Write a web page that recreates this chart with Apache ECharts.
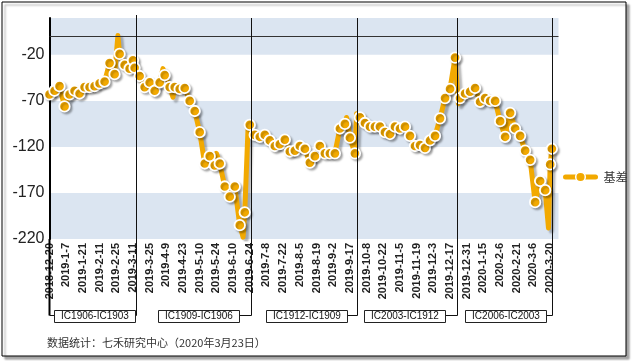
<!DOCTYPE html>
<html><head><meta charset="utf-8">
<script src="https://cdn.jsdelivr.net/npm/echarts@6/dist/echarts.min.js"></script>
<style>html,body{margin:0;padding:0;background:#fff}#c{width:634px;height:361px}</style>
</head><body><div id="c"></div>
<script>
// ---- data ----
const tickLabels = ['2018-12-20','2019-1-7','2019-1-21','2019-2-11','2019-2-25','2019-3-11','2019-3-25','2019-4-9','2019-4-23','2019-5-10','2019-5-24','2019-6-10','2019-6-24','2019-7-8','2019-7-22','2019-8-5','2019-8-19','2019-9-2','2019-9-17','2019-10-8','2019-10-22','2019-11-5','2019-11-19','2019-12-3','2019-12-17','2019-12-31','2020-1-15','2020-2-6','2020-2-21','2020-3-6','2020-3-20'];
const dayCount = 306; // trading-day slots on the category axis

// trading-day index of each marked observation
const markerDay = [0,3,6,9,12,15,18,21,24,27,30,33,36,39,42,45,48,50,
  51,54,57,60,63,66,69,72,75,78,81,84,87,90,93,96,99,102,105,108,111,114,117,120,
  123,126,129,132,135,138,141,144,147,150,153,156,159,162,165,168,171,174,177,180,183,186,189,192,195,198,201,
  204,207,210,213,216,219,222,225,228,231,234,237,240,243,246,249,252,255,258,261,264,267,270,273,276,279,282,285,288,291,294,297,300,
  301];
const markerBasis = [-63,-59,-54,-76,-63,-59,-62,-55,-55,-54,-51,-49,-29,-41,-19,-31,-35,-26,
  -34,-43,-55,-50,-59,-50,-42,-55,-55,-57,-56,-70,-81,-104,-138,-130,-140,-138,-163,-174,-163,-205,-191,-96,
  -107,-109,-107,-113,-119,-117,-112,-125,-124,-119,-122,-137,-130,-119,-127,-127,-127,-100,-95,-110,-127,-88,-94,-98,-98,-98,-104,
  -106,-98,-100,-98,-108,-119,-118,-121,-113,-108,-89,-67,-57,-23,-67,-62,-60,-56,-71,-67,-70,-70,-92,-109,-83,-100,-108,-124,-134,-180,-157,-167,-139,
  -122];
// observations visible only in the line (no marker)
const lineOnlyDay = [41,68,74,100,116,119,178,184,245,299];
const lineOnlyBasis = [1,-35,-66,-127,-218,-98,-88,-84,-73,-208];

// contract roll positions and bracket labels
const rollDay = [52.3,120.6,184.1,243.5,300.5];
const boxCenterDay = [26.6,88.7,153.6,213.2,272.6];
const contracts = ['IC1906-IC1903','IC1909-IC1906','IC1912-IC1909','IC2003-IC1912','IC2006-IC2003'];
const sourceText = '数据统计：七禾研究中心（2020年3月23日）';
const seriesName = '基差';

// ---- build ----
const categories = Array.from({length: dayCount}, (_, i) => String(i));
const seriesData = new Array(dayCount).fill(null);
markerDay.forEach((d, i) => { seriesData[d] = markerBasis[i]; });
lineOnlyDay.forEach((d, i) => { seriesData[d] = {value: lineOnlyBasis[i], symbol: 'none'}; });

const ORANGE = '#f2a900';
const chart = echarts.init(document.getElementById('c'), null, {renderer: 'canvas'});
chart.setOption({
  backgroundColor: '#fff',
  animation: false,
  grid: {left: 49.5, right: 75.5, top: 18, bottom: 122, containLabel: false},
  legend: {
    data: [seriesName], left: 563, top: 171, itemWidth: 30, itemHeight: 12, padding: 0,
    lineStyle: {width: 5, cap: 'round'},
    itemStyle: {borderColor: '#fff', borderWidth: 1.5},
    textStyle: {fontSize: 12, color: '#333', fontFamily: 'Noto Sans CJK SC', padding: [0,0,0,3]}
  },
  xAxis: {
    type: 'category', data: categories, boundaryGap: false,
    axisLine: {show: false}, axisTick: {show: false}, splitLine: {show: false},
    axisLabel: {
      interval: 9, rotate: 90, margin: 4, fontSize: 11, fontWeight: 'bold', color: '#222',
      fontFamily: 'Liberation Sans',
      formatter: (v, i) => (i % 10 === 0 && tickLabels[i / 10]) ? tickLabels[i / 10] : ''
    }
  },
  yAxis: {
    type: 'value', min: -220, max: 20, interval: 50,
    axisLine: {show: true, lineStyle: {color: '#000', width: 2}},
    axisTick: {show: false}, splitLine: {show: false},
    splitArea: {show: true, areaStyle: {color: ['#dbe5f1', '#ffffff']}},
    axisLabel: {fontSize: 16, color: '#222', margin: 5, fontFamily: 'Liberation Sans',
      formatter: v => (v === 20 ? '' : String(v))}
  },
  series: [{
    name: seriesName, type: 'line', data: seriesData, connectNulls: true,
    showAllSymbol: true, symbol: 'circle', symbolSize: 10.5,
    lineStyle: {width: 5, color: ORANGE, join: 'round', cap: 'round',
      shadowColor: 'rgba(0,0,0,0.28)', shadowBlur: 2, shadowOffsetX: 3, shadowOffsetY: 3},
    itemStyle: {color: ORANGE, borderColor: '#fff', borderWidth: 1.8,
      shadowColor: 'rgba(0,0,0,0.25)', shadowBlur: 2, shadowOffsetX: 2, shadowOffsetY: 2},
    emphasis: {disabled: true},
    markLine: {
      silent: true, symbol: 'none', label: {show: false},
      lineStyle: {color: '#333', width: 1, type: 'solid', shadowColor: 'transparent'},
      data: [{yAxis: 0}]
    }
  }]
});

// ---- annotation brackets anchored to the axes ----
const px = (d, v) => chart.convertToPixel({gridIndex: 0}, [d, v]);
const topY = px(0, 20)[1];
const botY = px(0, -220)[1];
const axisX = px(0, 0)[0];
const bracketY = 315.5, boxW = 81, boxH = 12;
const els = [];
els.push({type: 'rect', z: -10, silent: true,
  shape: {x: 2, y: 2, width: 624, height: 354},
  style: {fill: '#fff', stroke: '#000', lineWidth: 1,
    shadowColor: 'rgba(0,0,0,0.35)', shadowBlur: 2, shadowOffsetX: 3, shadowOffsetY: 3}});
els.push({type: 'line', z: 5, silent: true,
  shape: {x1: axisX, y1: botY, x2: axisX, y2: bracketY}, style: {stroke: '#000', lineWidth: 2}});
rollDay.forEach((d, i) => {
  const rx = Math.round(px(d, 0)[0]) + 0.5;
  const cx = px(boxCenterDay[i], 0)[0];
  const bl = Math.round(cx - boxW / 2) + 0.5, br = bl + boxW;
  els.push({type: 'line', z: 5, silent: true,
    shape: {x1: rx, y1: topY - (i === 0 ? 3 : 0), x2: rx, y2: bracketY}, style: {stroke: '#111', lineWidth: 1}});
  els.push({type: 'line', z: 5, silent: true,
    shape: {x1: br, y1: bracketY, x2: rx, y2: bracketY}, style: {stroke: '#111', lineWidth: 1}});
  if (i === 0) {
    els.push({type: 'line', z: 5, silent: true,
      shape: {x1: axisX, y1: bracketY, x2: bl, y2: bracketY}, style: {stroke: '#111', lineWidth: 1}});
  }
  els.push({type: 'rect', z: 6, silent: true,
    shape: {x: bl, y: Math.round(bracketY - boxH / 2) + 0.5, width: boxW, height: boxH},
    style: {fill: '#fff', stroke: '#222', lineWidth: 1}});
  els.push({type: 'text', z: 7, silent: true,
    style: {text: contracts[i], x: bl + boxW / 2, y: bracketY + 0.5, align: 'center', verticalAlign: 'middle',
      font: '10px "Liberation Sans"', fill: '#111'}});
});
els.push({type: 'text', z: 7, silent: true,
  style: {text: sourceText, x: 47, y: 343, align: 'left', verticalAlign: 'middle',
    font: '11px "Noto Sans CJK SC"', fill: '#333'}});
chart.setOption({graphic: {elements: els}});
</script>
</body></html>
